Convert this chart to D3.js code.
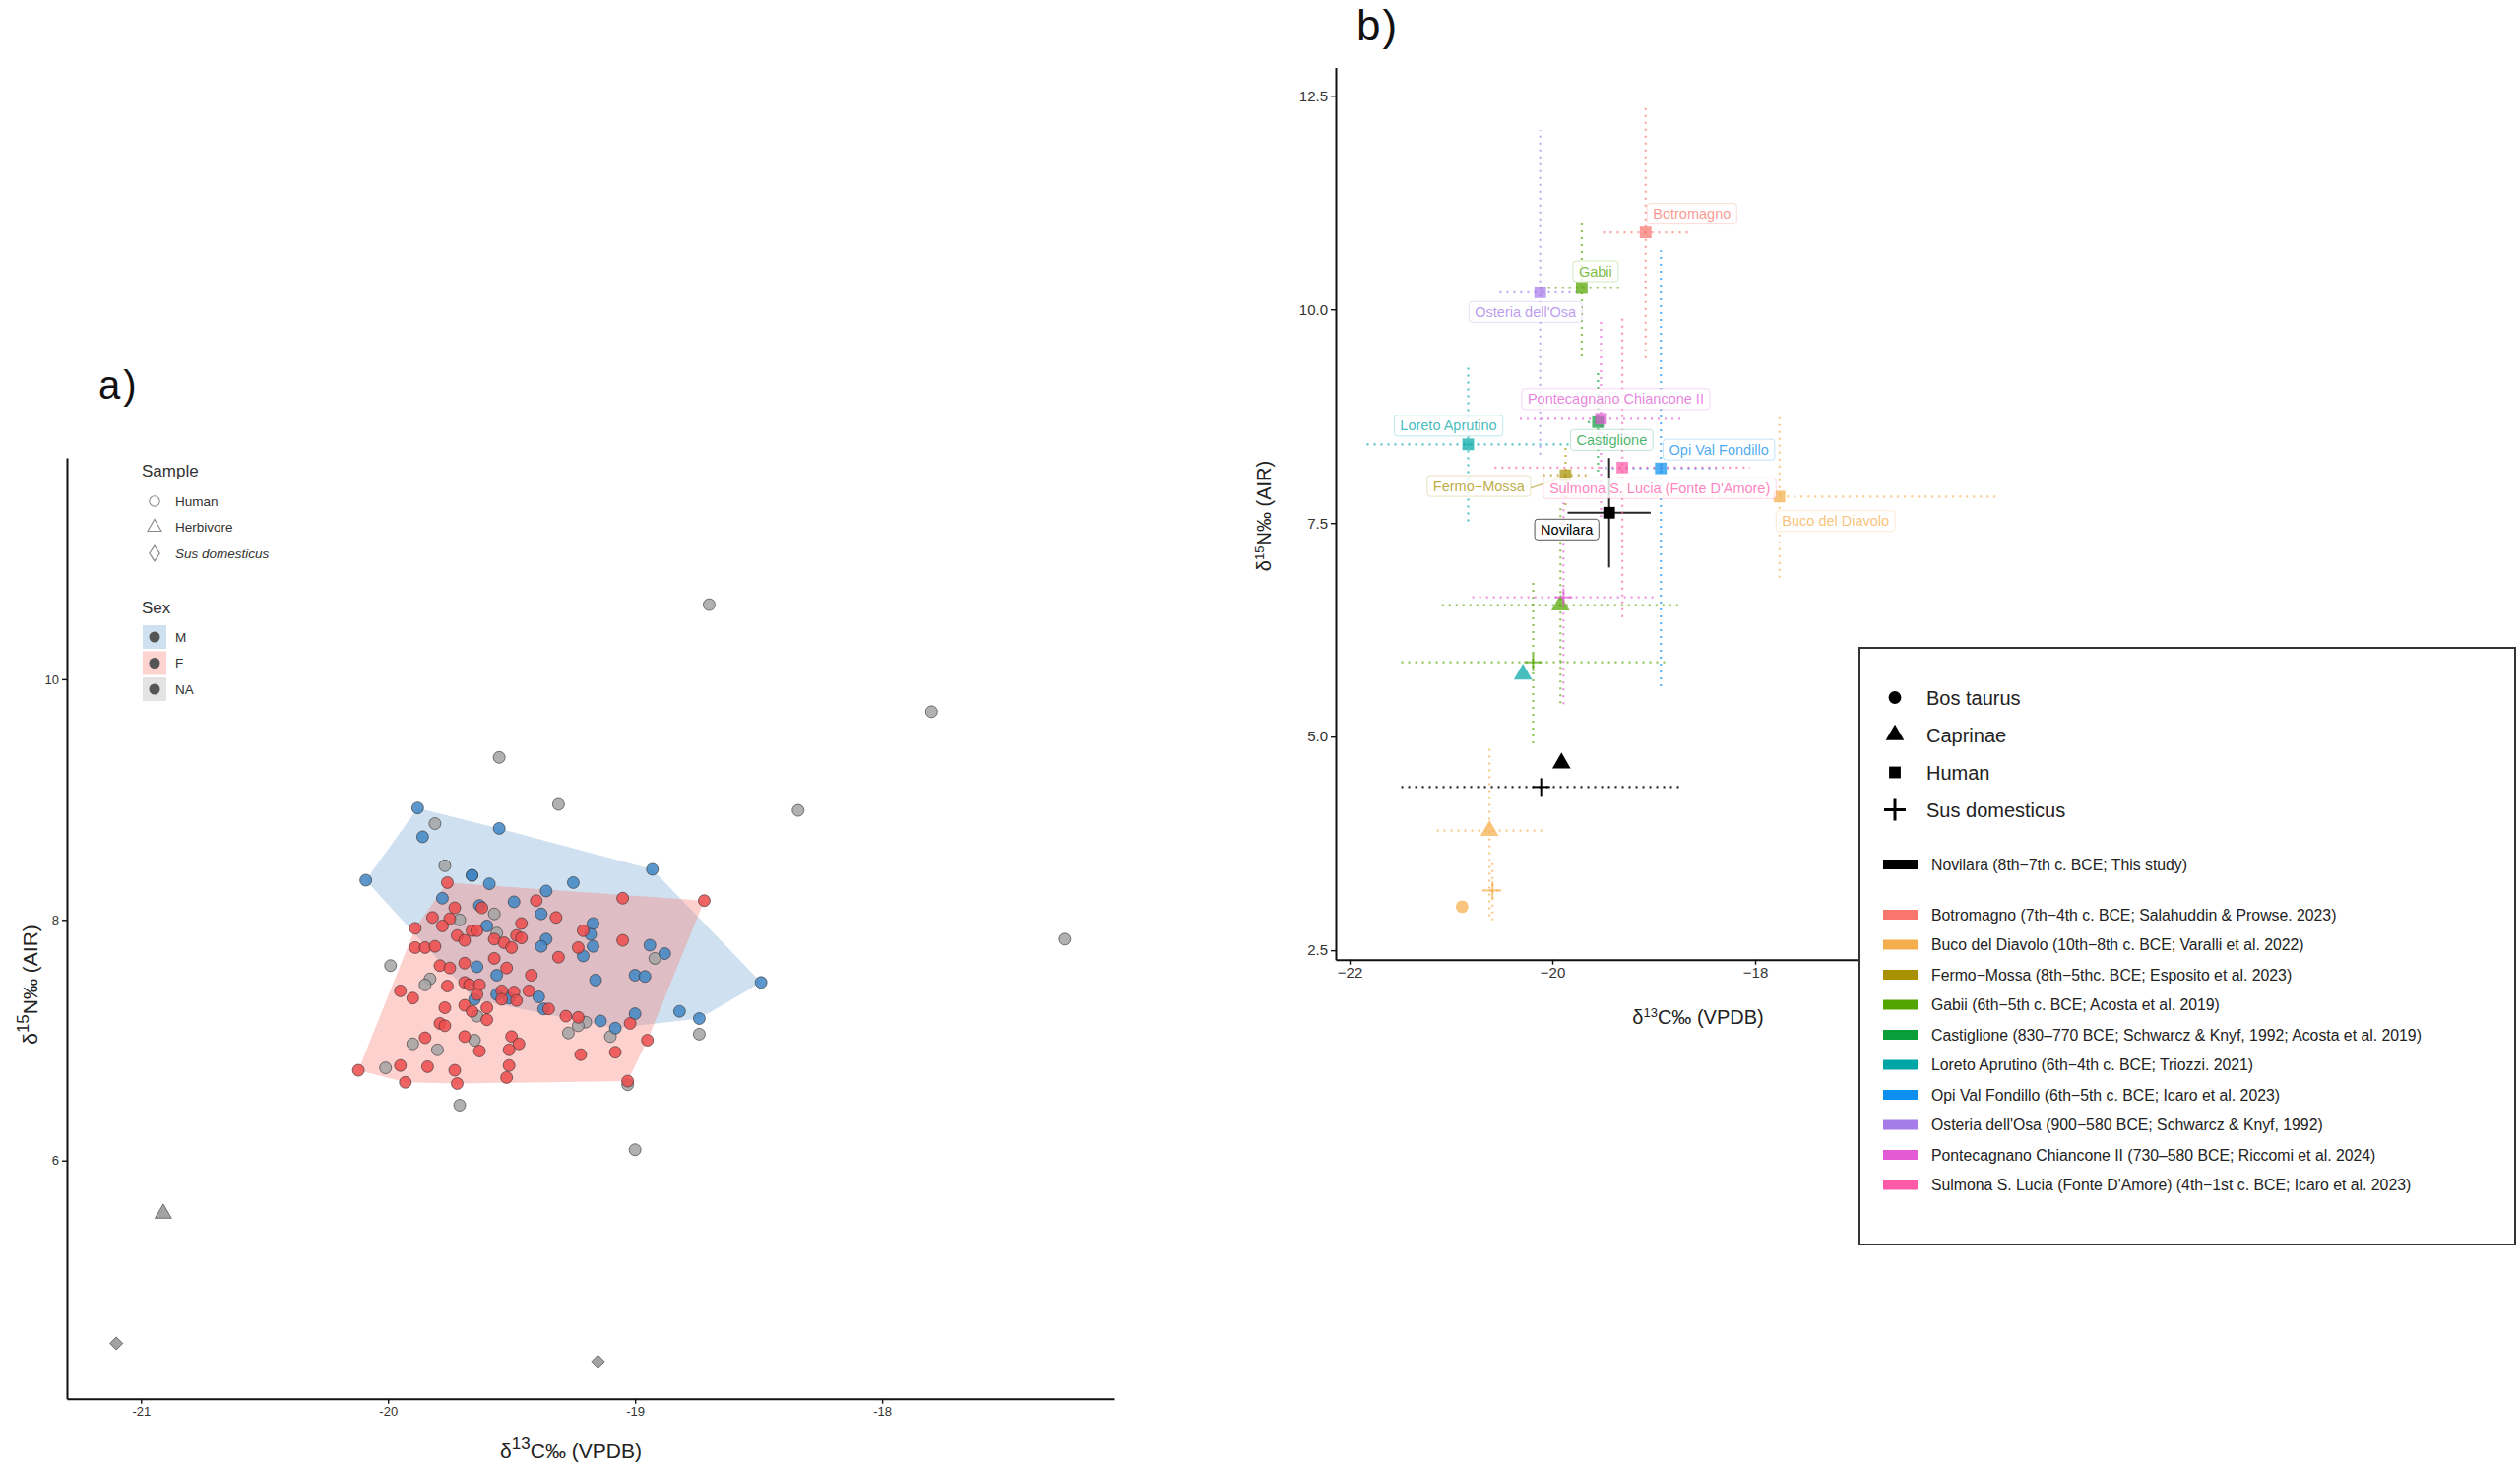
<!DOCTYPE html>
<html>
<head>
<meta charset="utf-8">
<script src="https://cdn.jsdelivr.net/npm/d3@7"></script>
<style>
  body { margin: 0; background: #fff; }
  text { font-family: "Liberation Sans", Arial, sans-serif; }
</style>
</head>
<body>
<svg id="chart" width="2560" height="1490"></svg>
<script>
// ---------- panel a data (d13C, d15N) ----------
var maleHumans = [
  [-19.88, 8.93], [-19.86, 8.69], [-19.55, 8.76], [-20.09, 8.33], [-19.66, 8.37], [-19.66, 8.37],
  [-19.59, 8.30], [-19.36, 8.24], [-19.25, 8.31], [-18.93, 8.42], [-19.78, 8.18], [-19.63, 8.12],
  [-19.49, 8.15], [-19.38, 8.05], [-19.60, 7.95], [-19.17, 7.97], [-19.18, 7.88], [-19.36, 7.84],
  [-19.38, 7.78], [-19.17, 7.78], [-19.21, 7.70], [-18.94, 7.79], [-18.88, 7.72], [-19.64, 7.61],
  [-19.56, 7.54], [-19.16, 7.50], [-19.00, 7.54], [-18.96, 7.53], [-18.49, 7.48], [-19.56, 7.38],
  [-19.51, 7.35], [-19.65, 7.34], [-19.39, 7.36], [-19.37, 7.26], [-19.14, 7.16], [-19.08, 7.10],
  [-19.00, 7.22], [-18.82, 7.24], [-18.74, 7.18]
];
var femaleHumans = [
  [-19.76, 8.31], [-19.40, 8.16], [-19.05, 8.18], [-18.72, 8.16], [-19.73, 8.10], [-19.62, 8.10],
  [-19.82, 8.02], [-19.75, 8.01], [-19.78, 7.95], [-19.32, 8.02], [-19.46, 7.97], [-19.89, 7.93],
  [-19.66, 7.91], [-19.64, 7.91], [-19.21, 7.91], [-19.72, 7.87], [-19.69, 7.83], [-19.57, 7.84],
  [-19.53, 7.81], [-19.50, 7.77], [-19.48, 7.87], [-19.46, 7.85], [-19.89, 7.77], [-19.85, 7.77],
  [-19.81, 7.78], [-19.23, 7.77], [-19.05, 7.83], [-19.31, 7.69], [-19.57, 7.68], [-19.69, 7.64],
  [-19.79, 7.62], [-19.75, 7.60], [-19.52, 7.60], [-19.42, 7.54], [-19.69, 7.48], [-19.67, 7.46],
  [-19.63, 7.46], [-19.76, 7.45], [-19.95, 7.41], [-19.90, 7.35], [-19.64, 7.38], [-19.54, 7.41],
  [-19.54, 7.34], [-19.49, 7.40], [-19.48, 7.33], [-19.43, 7.41], [-19.77, 7.27], [-19.69, 7.29],
  [-19.66, 7.24], [-19.60, 7.27], [-19.60, 7.17], [-19.35, 7.26], [-19.28, 7.20], [-19.23, 7.19],
  [-19.02, 7.14], [-19.79, 7.14], [-19.77, 7.12], [-19.85, 7.02], [-19.69, 7.03], [-19.50, 7.03],
  [-19.47, 6.97], [-19.63, 6.91], [-19.51, 6.92], [-19.22, 6.88], [-19.08, 6.90], [-18.95, 7.00],
  [-20.12, 6.75], [-19.95, 6.79], [-19.84, 6.78], [-19.73, 6.75], [-19.51, 6.79], [-19.93, 6.65],
  [-19.72, 6.64], [-19.52, 6.69], [-19.03, 6.66]
];
var unsexedHumans = [
  [-19.55, 9.35], [-19.31, 8.96], [-19.81, 8.80], [-19.77, 8.45], [-19.71, 8.00], [-19.57, 8.05],
  [-19.56, 7.89], [-19.99, 7.62], [-19.83, 7.51], [-19.85, 7.46], [-19.64, 7.20], [-18.92, 7.68],
  [-19.20, 7.15], [-19.23, 7.12], [-19.27, 7.06], [-19.10, 7.03], [-18.74, 7.05], [-19.65, 7.00],
  [-19.90, 6.97], [-19.80, 6.92], [-20.01, 6.77], [-19.03, 6.63], [-19.71, 6.46],
  [-18.70, 10.62], [-17.80, 9.73], [-18.34, 8.91], [-17.26, 7.84], [-19.00, 6.09]
];
var herbivores = [[-20.91, 5.56]];
var pigsA = [[-21.10, 4.48], [-19.15, 4.33]];

var xTicksA = [-21, -20, -19, -18];
var yTicksA = [6, 8, 10];

// ---------- panel b data ----------
var siteNames = ["Novilara", "Botromagno", "Buco del Diavolo", "Fermo\u2212Mossa", "Gabii", "Castiglione",
  "Loreto Aprutino", "Opi Val Fondillo", "Osteria dell'Osa", "Pontecagnano Chiancone II",
  "Sulmona S. Lucia (Fonte D'Amore)"];
var siteLegend = [
  "Novilara (8th\u22127th c. BCE; This study)",
  "Botromagno (7th\u22124th c. BCE; Salahuddin & Prowse. 2023)",
  "Buco del Diavolo (10th\u22128th c. BCE; Varalli et al. 2022)",
  "Fermo\u2212Mossa (8th\u22125thc. BCE; Esposito et al. 2023)",
  "Gabii (6th\u22125th c. BCE; Acosta et al. 2019)",
  "Castiglione (830\u2013770 BCE; Schwarcz & Knyf, 1992; Acosta et al. 2019)",
  "Loreto Aprutino (6th\u22124th c. BCE; Triozzi. 2021)",
  "Opi Val Fondillo (6th\u22125th c. BCE; Icaro et al. 2023)",
  "Osteria dell'Osa (900\u2212580 BCE; Schwarcz & Knyf, 1992)",
  "Pontecagnano Chiancone II (730\u2013580 BCE; Riccomi et al. 2024)",
  "Sulmona S. Lucia (Fonte D'Amore) (4th\u22121st c. BCE; Icaro et al. 2023)"
];
var siteColors = ["#000000", "#F8766D", "#F5AE4E", "#A89000", "#53A500", "#0A9E3A",
  "#00A6A6", "#0C8FEE", "#A57CE8", "#E25AD4", "#FF5AA8"];
var taxa = ["Bos taurus", "Caprinae", "Human", "Sus domesticus"];

// site index, taxon, mean d13C, mean d15N, sd d13C, sd d15N
var siteMeans = [
  [0, "Human", -19.44, 7.62, 0.41, 0.64],
  [0, "Caprinae", -19.91, 4.69, 0, 0],
  [0, "Sus domesticus", -20.11, 4.41, 1.38, 0],
  [1, "Human", -19.08, 10.90, 0.42, 1.47],
  [2, "Human", -17.76, 7.81, 2.17, 0.95],
  [2, "Caprinae", -20.62, 3.90, 0.52, 1.00],
  [2, "Sus domesticus", -20.59, 3.20, 0.10, 0.35],
  [2, "Bos taurus", -20.89, 3.01, 0, 0],
  [3, "Human", -19.87, 8.06, 0.22, 0.35],
  [4, "Human", -19.71, 10.25, 0.40, 0.80],
  [4, "Caprinae", -19.92, 6.54, 1.17, 1.15],
  [4, "Sus domesticus", -20.19, 5.87, 1.30, 0.95],
  [5, "Human", -19.55, 8.68, 0.10, 0.58],
  [6, "Human", -20.83, 8.42, 1.00, 0.90],
  [6, "Caprinae", -20.29, 5.73, 0, 0],
  [7, "Human", -18.93, 8.14, 0.55, 2.55],
  [8, "Human", -20.12, 10.20, 0.40, 1.90],
  [9, "Human", -19.52, 8.72, 0.80, 1.15],
  [9, "Sus domesticus", -19.89, 6.63, 0.90, 1.25],
  [10, "Human", -19.31, 8.15, 1.26, 1.75]
];
var xTicksB = [-22, -20, -18];
var yTicksB = [2.5, 5.0, 7.5, 10.0, 12.5];

// label placement (pixel offsets from the human mean), like a repel layout
var labelOffsets = {
  0: [-43, 17], 1: [47, -19], 2: [57, 25], 3: [-88, 11], 4: [14, -17], 5: [14, 18],
  6: [-20, -19], 7: [59, -19], 8: [-15, 20], 9: [15, -20], 10: [38, 21]
};

var svg = d3.select("#chart");
svg.append("rect").attr("width", 2560).attr("height", 1490).attr("fill", "#fff");

// ================= panel a =================
var xA = d3.scaleLinear().domain([-21.30, -17.06]).range([68, 1132]);
var yA = d3.scaleLinear().domain([4.02, 11.84]).range([1420.7, 465]);
var gA = svg.append("g");

var hullM = d3.polygonHull(maleHumans.map(function (d) { return [xA(d[0]), yA(d[1])]; }));
var hullF = d3.polygonHull(femaleHumans.map(function (d) { return [xA(d[0]), yA(d[1])]; }));
gA.append("path").attr("d", "M" + hullM.join("L") + "Z").attr("fill", "#6a9fd0").attr("fill-opacity", 0.32);
gA.append("path").attr("d", "M" + hullF.join("L") + "Z").attr("fill", "#f87a72").attr("fill-opacity", 0.35);

function drawDots(data, fill) {
  gA.append("g").selectAll("circle").data(data).enter().append("circle")
    .attr("cx", function (d) { return xA(d[0]); })
    .attr("cy", function (d) { return yA(d[1]); })
    .attr("r", 6)
    .attr("fill", fill).attr("fill-opacity", 0.85)
    .attr("stroke", "#333").attr("stroke-opacity", 0.7).attr("stroke-width", 0.9);
}
drawDots(unsexedHumans, "#a3a3a3");
drawDots(maleHumans, "#3f86c4");
drawDots(femaleHumans, "#ec4b4b");

gA.append("g").selectAll("path").data(herbivores).enter().append("path")
  .attr("d", d3.symbol().type(d3.symbolTriangle).size(120))
  .attr("transform", function (d) { return "translate(" + xA(d[0]) + "," + yA(d[1]) + ")"; })
  .attr("fill", "#a3a3a3").attr("stroke", "#555").attr("stroke-width", 0.8);
gA.append("g").selectAll("path").data(pigsA).enter().append("path")
  .attr("d", d3.symbol().type(d3.symbolSquare).size(85))
  .attr("transform", function (d) { return "translate(" + xA(d[0]) + "," + yA(d[1]) + ") rotate(45)"; })
  .attr("fill", "#a3a3a3").attr("stroke", "#555").attr("stroke-width", 0.8);

var axA_x = gA.append("g").attr("transform", "translate(0,1420.7)")
  .call(d3.axisBottom(xA).tickValues(xTicksA).tickSize(5).tickSizeOuter(0).tickFormat(function (d) { return String(d); }));
var axA_y = gA.append("g").attr("transform", "translate(68,0)")
  .call(d3.axisLeft(yA).tickValues(yTicksA).tickSize(5).tickSizeOuter(0));
[axA_x, axA_y].forEach(function (ax) {
  ax.select(".domain").attr("stroke", "#111").attr("stroke-width", 2);
  ax.selectAll(".tick line").attr("stroke", "#111").attr("stroke-width", 1.4);
  ax.selectAll(".tick text").attr("font-size", 13).attr("fill", "#333").attr("font-family", "Liberation Sans, Arial");
});

var tA = gA.append("text").attr("x", 580).attr("y", 1481).attr("text-anchor", "middle").attr("font-size", 21).attr("fill", "#222");
tA.append("tspan").text("\u03b4");
tA.append("tspan").attr("dy", -9).attr("font-size", 17).text("13");
tA.append("tspan").attr("dy", 9).text("C\u2030 (VPDB)");
var tAy = gA.append("text").attr("transform", "translate(38,1000) rotate(-90)").attr("text-anchor", "middle").attr("font-size", 21).attr("fill", "#222");
tAy.append("tspan").text("\u03b4");
tAy.append("tspan").attr("dy", -9).attr("font-size", 17).text("15");
tAy.append("tspan").attr("dy", 9).text("N\u2030 (AIR)");

svg.append("text").attr("x", 100).attr("y", 405).attr("font-size", 40).attr("letter-spacing", 3).attr("fill", "#111").text("a)");

// legend a
var legA = gA.append("g");
legA.append("text").attr("x", 144).attr("y", 484).attr("font-size", 17).attr("fill", "#333").text("Sample");
var sampleKeys = ["Human", "Herbivore", "Sus domesticus"];
var sampleShapes = [d3.symbolCircle, d3.symbolTriangle, d3.symbolDiamond];
sampleKeys.forEach(function (k, i) {
  var yy = 509 + i * 26.5;
  legA.append("path").attr("d", d3.symbol().type(sampleShapes[i]).size(i === 2 ? 70 : 85))
    .attr("transform", "translate(157," + yy + ")" + (i === 2 ? " scale(1.15,1)" : ""))
    .attr("fill", "none").attr("stroke", "#8a8a8a").attr("stroke-width", 1.1);
  legA.append("text").attr("x", 178).attr("y", yy + 4.5).attr("font-size", 13.5).attr("fill", "#333")
    .attr("font-style", i === 2 ? "italic" : "normal").text(k);
});
legA.append("text").attr("x", 144).attr("y", 623).attr("font-size", 17).attr("fill", "#333").text("Sex");
var sexKeys = ["M", "F", "NA"];
var sexFills = ["#cfe0f0", "#fdd3cf", "#e3e3e3"];
sexKeys.forEach(function (k, i) {
  var yy = 635 + i * 26.5;
  legA.append("rect").attr("x", 145).attr("y", yy).attr("width", 24).attr("height", 24).attr("fill", sexFills[i]);
  legA.append("circle").attr("cx", 157).attr("cy", yy + 12).attr("r", 5.5).attr("fill", "#555");
  legA.append("text").attr("x", 178).attr("y", yy + 16.5).attr("font-size", 13.5).attr("fill", "#333").text(k);
});

// ================= panel b =================
var xB = d3.scaleLinear().domain([-22.136, -15.408]).range([1357, 2050]);
var yB = d3.scaleLinear().domain([2.39, 12.83]).range([974.7, 68.6]);
var gB = svg.append("g");

var axB_x = gB.append("g").attr("transform", "translate(0,974.7)")
  .call(d3.axisBottom(xB).tickValues(xTicksB).tickSize(5).tickSizeOuter(0).tickFormat(d3.format("d")));
var axB_y = gB.append("g").attr("transform", "translate(1357,0)")
  .call(d3.axisLeft(yB).tickValues(yTicksB).tickSize(5).tickSizeOuter(0).tickFormat(d3.format(".1f")));
[axB_x, axB_y].forEach(function (ax) {
  ax.select(".domain").attr("stroke", "#111").attr("stroke-width", 2);
  ax.selectAll(".tick line").attr("stroke", "#111").attr("stroke-width", 1.4);
  ax.selectAll(".tick text").attr("font-size", 15).attr("fill", "#333").attr("font-family", "Liberation Sans, Arial");
});

var bars = gB.append("g");
siteMeans.forEach(function (r) {
  var c = siteColors[r[0]], cx = xB(r[2]), cy = yB(r[3]);
  var solid = (r[0] === 0 && r[1] === "Human");
  var style = function (sel) {
    sel.attr("stroke", c).attr("stroke-width", solid ? 2 : 2.2)
      .attr("stroke-opacity", r[0] === 0 ? 0.85 : 0.65)
      .attr("stroke-dasharray", solid ? null : "2 5");
  };
  if (r[4] > 0) bars.append("line").attr("x1", xB(r[2] - r[4])).attr("x2", xB(r[2] + r[4])).attr("y1", cy).attr("y2", cy).call(style);
  if (r[5] > 0) bars.append("line").attr("x1", cx).attr("x2", cx).attr("y1", yB(r[3] - r[5])).attr("y2", yB(r[3] + r[5])).call(style);
});

var shapeOf = {
  "Bos taurus": d3.symbol().type(d3.symbolCircle).size(130),
  "Caprinae": d3.symbol().type(d3.symbolTriangle).size(150),
  "Human": d3.symbol().type(d3.symbolSquare).size(140)
};
var pts = gB.append("g");
siteMeans.forEach(function (r) {
  var c = siteColors[r[0]], cx = xB(r[2]), cy = yB(r[3]);
  var op = r[0] === 0 ? 1 : 0.72;
  if (r[1] === "Sus domesticus") {
    var p = pts.append("g").attr("transform", "translate(" + cx + "," + cy + ")")
      .attr("stroke", c).attr("stroke-width", 2).attr("stroke-opacity", op);
    p.append("line").attr("x1", -9).attr("x2", 9);
    p.append("line").attr("y1", -9).attr("y2", 9);
  } else {
    pts.append("path").attr("d", shapeOf[r[1]]).attr("transform", "translate(" + cx + "," + cy + ")")
      .attr("fill", c).attr("fill-opacity", op);
  }
});

// labels
var labs = gB.append("g");
siteMeans.filter(function (r) { return r[1] === "Human"; }).forEach(function (r) {
  var si = r[0], c = siteColors[si], cx = xB(r[2]), cy = yB(r[3]);
  var off = labelOffsets[si];
  var lx = cx + off[0], ly = cy + off[1];
  var g = labs.append("g");
  var box = g.append("rect");
  var t = g.append("text").attr("x", lx).attr("y", ly + 5).attr("text-anchor", "middle")
    .attr("font-size", 14.5).attr("fill", c).attr("fill-opacity", si === 0 ? 1 : 0.75).text(siteNames[si]);
  var w = t.node().getComputedTextLength() + 12;
  box.attr("x", lx - w / 2).attr("y", ly - 10.5).attr("width", w).attr("height", 21).attr("rx", 3)
    .attr("fill", "#fff").attr("fill-opacity", 0.8)
    .attr("stroke", si === 0 ? "#555" : c).attr("stroke-opacity", si === 0 ? 1 : 0.25).attr("stroke-width", 1);
  if (si === 3) {
    labs.insert("line", ":first-child").attr("x1", lx + w / 2).attr("y1", ly + 2).attr("x2", cx - 5).attr("y2", cy + 3)
      .attr("stroke", c).attr("stroke-opacity", 0.6).attr("stroke-width", 1.5);
  }
});

var tB = gB.append("text").attr("x", 1725).attr("y", 1040).attr("text-anchor", "middle").attr("font-size", 20).attr("fill", "#222");
tB.append("tspan").text("\u03b4");
tB.append("tspan").attr("dy", -7).attr("font-size", 13).text("13");
tB.append("tspan").attr("dy", 7).text("C\u2030 (VPDB)");
var tBy = gB.append("text").attr("transform", "translate(1291,524) rotate(-90)").attr("text-anchor", "middle").attr("font-size", 20).attr("fill", "#222");
tBy.append("tspan").text("\u03b4");
tBy.append("tspan").attr("dy", -7).attr("font-size", 13).text("15");
tBy.append("tspan").attr("dy", 7).text("N\u2030 (AIR)");

svg.append("text").attr("x", 1378).attr("y", 41).attr("font-size", 44).attr("letter-spacing", 2).attr("fill", "#111").text("b)");

// legend b
var legB = svg.append("g");
legB.append("rect").attr("x", 1889).attr("y", 658).attr("width", 666).attr("height", 606)
  .attr("fill", "#fff").attr("stroke", "#333").attr("stroke-width", 2);
taxa.forEach(function (k, i) {
  var yy = 708.5 + i * 38;
  if (k === "Sus domesticus") {
    var p = legB.append("g").attr("transform", "translate(1925," + yy + ")").attr("stroke", "#000").attr("stroke-width", 3);
    p.append("line").attr("x1", -11).attr("x2", 11);
    p.append("line").attr("y1", -11).attr("y2", 11);
  } else {
    legB.append("path").attr("d", shapeOf[k]).attr("transform", "translate(1925," + yy + ")").attr("fill", "#000");
  }
  legB.append("text").attr("x", 1957).attr("y", yy + 7).attr("font-size", 20).attr("fill", "#222").text(k);
});
siteLegend.forEach(function (k, i) {
  var yy = i === 0 ? 878 : 929 + (i - 1) * 30.5;
  legB.append("rect").attr("x", 1913).attr("y", yy - 5).attr("width", 35).attr("height", 10).attr("fill", siteColors[i]);
  legB.append("text").attr("x", 1962).attr("y", yy + 5.5).attr("font-size", 15.8).attr("fill", "#222").text(k);
});
</script>
</body>
</html>
